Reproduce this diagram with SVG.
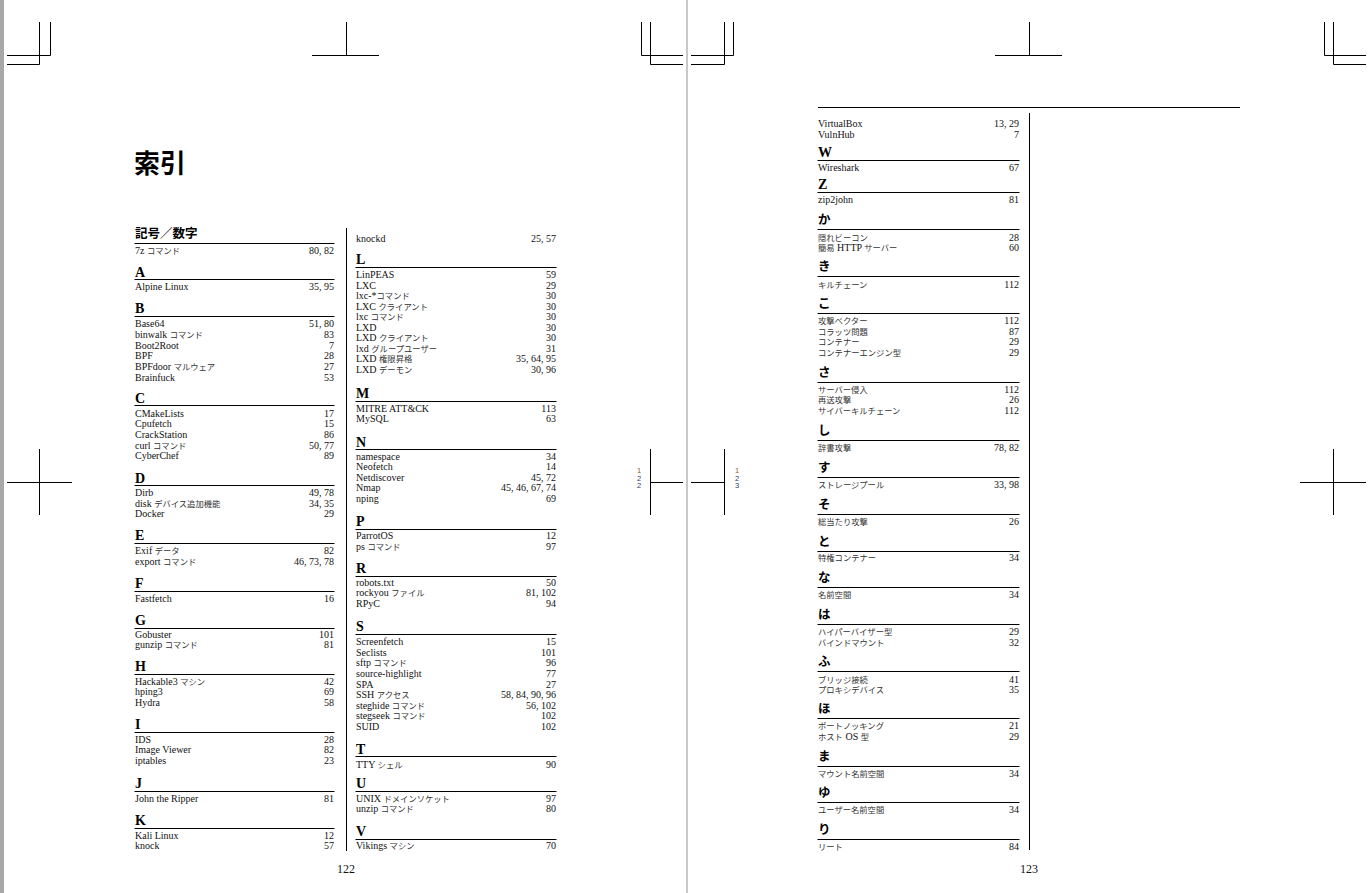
<svg xmlns="http://www.w3.org/2000/svg" width="1369" height="893" viewBox="0 0 1369 893">
<style>
.e{font-family:"Liberation Serif","Noto Sans CJK JP",serif;font-size:10px;fill:#111}
.n{font-family:"Liberation Serif",serif;font-size:10px;fill:#111;text-anchor:end}
.j{font-family:"Noto Sans CJK JP",sans-serif;font-size:8.3px;fill:#333}
.h{font-family:"Liberation Serif",serif;font-size:14px;font-weight:bold;fill:#000}
.hk{font-family:"Noto Sans CJK JP",sans-serif;font-size:12.5px;font-weight:bold;fill:#000}
.r{stroke:#000;stroke-width:1}
.m{stroke:#000;stroke-width:1;fill:none}
.pn{font-family:"Liberation Serif",serif;font-size:12px;fill:#111;text-anchor:middle}
.g{font-family:"Liberation Sans",sans-serif;font-size:7.5px;fill:#2c3c6c;text-anchor:middle}
</style>
<rect x="0" y="0" width="1369" height="893" fill="#fff"/>
<rect x="0" y="0" width="4" height="893" fill="#a8a8a8"/>
<rect x="686" y="0" width="2" height="893" fill="#c8c8c8"/>
<g id="cropmarks">
<path class="m" d="M39.5 22V64.5M7 64.5H39.5M50.5 22V55.5M7 55.5H50.5M641.5 22V55.5H683M650.5 22V64.5H683M346.5 22V55.5M312 55.5H379"/>
<path class="m" d="M39.5 449V515M7 482.5H72M650.5 449V515M650.5 482.5H683"/>
<path class="m" d="M724.5 22V64.5M691 64.5H724.5M733.5 22V55.5M691 55.5H733.5M1324.5 22V55.5H1366M1333.5 22V64.5H1366M1029.5 22V55.5M995 55.5H1062"/>
<path class="m" d="M724.5 449V515M691 482.5H724.5M1333.5 449V515M1300 482.5H1366"/>
</g>
<g id="gutter-numbers">
<text class="g" x="639" y="473" style="fill:#8a6420">1</text><text class="g" x="639" y="480.5">2</text><text class="g" x="639" y="488">2</text>
<text class="g" x="737" y="473" style="fill:#8a6420">1</text><text class="g" x="737" y="480.5">2</text><text class="g" x="737" y="488">3</text>
</g>
<g id="title"><text x="134" y="173" style="font-family:'Noto Sans CJK JP',sans-serif;font-size:26px;font-weight:bold;fill:#000">索引</text></g>
<g id="separators">
<line class="r" x1="346.5" y1="228" x2="346.5" y2="851"/>
<line class="r" x1="1029.5" y1="113" x2="1029.5" y2="850"/>
<line class="r" x1="818" y1="107.5" x2="1240" y2="107.5"/>
</g>
<g id="col-left">
<g id="sec-num"><text class="hk" x="135" y="237.5">記号／数字</text><line class="r" x1="134.5" y1="243.5" x2="334.5" y2="243.5"/>
<text class="e" x="135" y="253.7">7z <tspan class="j">コマンド</tspan></text><text class="n" x="334" y="253.7">80, 82</text></g>
<g id="sec-A"><text class="h" x="135" y="276.5">A</text><line class="r" x1="134.5" y1="279.5" x2="334.5" y2="279.5"/>
<text class="e" x="135" y="290.3">Alpine Linux</text><text class="n" x="334" y="290.3">35, 95</text></g>
<g id="sec-B"><text class="h" x="135" y="313.3">B</text><line class="r" x1="134.5" y1="316.5" x2="334.5" y2="316.5"/>
<text class="e" x="135" y="327.3">Base64</text><text class="n" x="334" y="327.3">51, 80</text>
<text class="e" x="135" y="338">binwalk <tspan class="j">コマンド</tspan></text><text class="n" x="334" y="338">83</text>
<text class="e" x="135" y="348.7">Boot2Root</text><text class="n" x="334" y="348.7">7</text>
<text class="e" x="135" y="359.3">BPF</text><text class="n" x="334" y="359.3">28</text>
<text class="e" x="135" y="370">BPFdoor <tspan class="j">マルウェア</tspan></text><text class="n" x="334" y="370">27</text>
<text class="e" x="135" y="380.7">Brainfuck</text><text class="n" x="334" y="380.7">53</text></g>
<g id="sec-C"><text class="h" x="135" y="402.7">C</text><line class="r" x1="134.5" y1="405.5" x2="334.5" y2="405.5"/>
<text class="e" x="135" y="416.7">CMakeLists</text><text class="n" x="334" y="416.7">17</text>
<text class="e" x="135" y="427.3">Cpufetch</text><text class="n" x="334" y="427.3">15</text>
<text class="e" x="135" y="438">CrackStation</text><text class="n" x="334" y="438">86</text>
<text class="e" x="135" y="448.7">curl <tspan class="j">コマンド</tspan></text><text class="n" x="334" y="448.7">50, 77</text>
<text class="e" x="135" y="459.3">CyberChef</text><text class="n" x="334" y="459.3">89</text></g>
<g id="sec-D"><text class="h" x="135" y="482.5">D</text><line class="r" x1="134.5" y1="485.5" x2="334.5" y2="485.5"/>
<text class="e" x="135" y="495.9">Dirb</text><text class="n" x="334" y="495.9">49, 78</text>
<text class="e" x="135" y="506.5">disk <tspan class="j">デバイス追加機能</tspan></text><text class="n" x="334" y="506.5">34, 35</text>
<text class="e" x="135" y="517.1">Docker</text><text class="n" x="334" y="517.1">29</text></g>
<g id="sec-E"><text class="h" x="135" y="540">E</text><line class="r" x1="134.5" y1="543.5" x2="334.5" y2="543.5"/>
<text class="e" x="135" y="554">Exif <tspan class="j">データ</tspan></text><text class="n" x="334" y="554">82</text>
<text class="e" x="135" y="564.5">export <tspan class="j">コマンド</tspan></text><text class="n" x="334" y="564.5">46, 73, 78</text></g>
<g id="sec-F"><text class="h" x="135" y="588">F</text><line class="r" x1="134.5" y1="591.5" x2="334.5" y2="591.5"/>
<text class="e" x="135" y="602">Fastfetch</text><text class="n" x="334" y="602">16</text></g>
<g id="sec-G"><text class="h" x="135" y="625">G</text><line class="r" x1="134.5" y1="628.5" x2="334.5" y2="628.5"/>
<text class="e" x="135" y="637.8">Gobuster</text><text class="n" x="334" y="637.8">101</text>
<text class="e" x="135" y="648.4">gunzip <tspan class="j">コマンド</tspan></text><text class="n" x="334" y="648.4">81</text></g>
<g id="sec-H"><text class="h" x="135" y="671">H</text><line class="r" x1="134.5" y1="674.5" x2="334.5" y2="674.5"/>
<text class="e" x="135" y="685">Hackable3 <tspan class="j">マシン</tspan></text><text class="n" x="334" y="685">42</text>
<text class="e" x="135" y="695.4">hping3</text><text class="n" x="334" y="695.4">69</text>
<text class="e" x="135" y="705.8">Hydra</text><text class="n" x="334" y="705.8">58</text></g>
<g id="sec-I"><text class="h" x="135" y="729.3">I</text><line class="r" x1="134.5" y1="732.5" x2="334.5" y2="732.5"/>
<text class="e" x="135" y="742.8">IDS</text><text class="n" x="334" y="742.8">28</text>
<text class="e" x="135" y="753.4">Image Viewer</text><text class="n" x="334" y="753.4">82</text>
<text class="e" x="135" y="764">iptables</text><text class="n" x="334" y="764">23</text></g>
<g id="sec-J"><text class="h" x="135" y="788">J</text><line class="r" x1="134.5" y1="791.5" x2="334.5" y2="791.5"/>
<text class="e" x="135" y="802.3">John the Ripper</text><text class="n" x="334" y="802.3">81</text></g>
<g id="sec-K"><text class="h" x="135" y="825">K</text><line class="r" x1="134.5" y1="828.5" x2="334.5" y2="828.5"/>
<text class="e" x="135" y="838.6">Kali Linux</text><text class="n" x="334" y="838.6">12</text>
<text class="e" x="135" y="849.2">knock</text><text class="n" x="334" y="849.2">57</text></g>
</g>
<g id="col-mid">
<g id="sec-K2"><text class="e" x="356" y="241.7">knockd</text><text class="n" x="556" y="241.7">25, 57</text></g>
<g id="sec-L"><text class="h" x="356" y="264.3">L</text><line class="r" x1="355.5" y1="267.5" x2="556.5" y2="267.5"/>
<text class="e" x="356" y="278.3">LinPEAS</text><text class="n" x="556" y="278.3">59</text>
<text class="e" x="356" y="288.8">LXC</text><text class="n" x="556" y="288.8">29</text>
<text class="e" x="356" y="299.2">lxc-*<tspan class="j">コマンド</tspan></text><text class="n" x="556" y="299.2">30</text>
<text class="e" x="356" y="309.6">LXC <tspan class="j">クライアント</tspan></text><text class="n" x="556" y="309.6">30</text>
<text class="e" x="356" y="320">lxc <tspan class="j">コマンド</tspan></text><text class="n" x="556" y="320">30</text>
<text class="e" x="356" y="330.5">LXD</text><text class="n" x="556" y="330.5">30</text>
<text class="e" x="356" y="341">LXD <tspan class="j">クライアント</tspan></text><text class="n" x="556" y="341">30</text>
<text class="e" x="356" y="351.5">lxd <tspan class="j">グループユーザー</tspan></text><text class="n" x="556" y="351.5">31</text>
<text class="e" x="356" y="362.2">LXD <tspan class="j">権限昇格</tspan></text><text class="n" x="556" y="362.2">35, 64, 95</text>
<text class="e" x="356" y="372.7">LXD <tspan class="j">デーモン</tspan></text><text class="n" x="556" y="372.7">30, 96</text></g>
<g id="sec-M"><text class="h" x="356" y="398">M</text><line class="r" x1="355.5" y1="401.5" x2="556.5" y2="401.5"/>
<text class="e" x="356" y="411.7">MITRE ATT&amp;CK</text><text class="n" x="556" y="411.7">113</text>
<text class="e" x="356" y="422.2">MySQL</text><text class="n" x="556" y="422.2">63</text></g>
<g id="sec-N"><text class="h" x="356" y="446.5">N</text><line class="r" x1="355.5" y1="449.5" x2="556.5" y2="449.5"/>
<text class="e" x="356" y="459.5">namespace</text><text class="n" x="556" y="459.5">34</text>
<text class="e" x="356" y="470.2">Neofetch</text><text class="n" x="556" y="470.2">14</text>
<text class="e" x="356" y="480.8">Netdiscover</text><text class="n" x="556" y="480.8">45, 72</text>
<text class="e" x="356" y="491.4">Nmap</text><text class="n" x="556" y="491.4">45, 46, 67, 74</text>
<text class="e" x="356" y="502">nping</text><text class="n" x="556" y="502">69</text></g>
<g id="sec-P"><text class="h" x="356" y="526">P</text><line class="r" x1="355.5" y1="529.5" x2="556.5" y2="529.5"/>
<text class="e" x="356" y="539.3">ParrotOS</text><text class="n" x="556" y="539.3">12</text>
<text class="e" x="356" y="549.8">ps <tspan class="j">コマンド</tspan></text><text class="n" x="556" y="549.8">97</text></g>
<g id="sec-R"><text class="h" x="356" y="573">R</text><line class="r" x1="355.5" y1="576.5" x2="556.5" y2="576.5"/>
<text class="e" x="356" y="586">robots.txt</text><text class="n" x="556" y="586">50</text>
<text class="e" x="356" y="596.4">rockyou <tspan class="j">ファイル</tspan></text><text class="n" x="556" y="596.4">81, 102</text>
<text class="e" x="356" y="606.8">RPyC</text><text class="n" x="556" y="606.8">94</text></g>
<g id="sec-S"><text class="h" x="356" y="631">S</text><line class="r" x1="355.5" y1="634.5" x2="556.5" y2="634.5"/>
<text class="e" x="356" y="645.2">Screenfetch</text><text class="n" x="556" y="645.2">15</text>
<text class="e" x="356" y="655.8">Seclists</text><text class="n" x="556" y="655.8">101</text>
<text class="e" x="356" y="666.3">sftp <tspan class="j">コマンド</tspan></text><text class="n" x="556" y="666.3">96</text>
<text class="e" x="356" y="676.9">source-highlight</text><text class="n" x="556" y="676.9">77</text>
<text class="e" x="356" y="687.5">SPA</text><text class="n" x="556" y="687.5">27</text>
<text class="e" x="356" y="698.1">SSH <tspan class="j">アクセス</tspan></text><text class="n" x="556" y="698.1">58, 84, 90, 96</text>
<text class="e" x="356" y="708.7">steghide <tspan class="j">コマンド</tspan></text><text class="n" x="556" y="708.7">56, 102</text>
<text class="e" x="356" y="719.2">stegseek <tspan class="j">コマンド</tspan></text><text class="n" x="556" y="719.2">102</text>
<text class="e" x="356" y="729.8">SUID</text><text class="n" x="556" y="729.8">102</text></g>
<g id="sec-T"><text class="h" x="356" y="753.7">T</text><line class="r" x1="355.5" y1="756.5" x2="556.5" y2="756.5"/>
<text class="e" x="356" y="767.7">TTY <tspan class="j">シェル</tspan></text><text class="n" x="556" y="767.7">90</text></g>
<g id="sec-U"><text class="h" x="356" y="788">U</text><line class="r" x1="355.5" y1="791.5" x2="556.5" y2="791.5"/>
<text class="e" x="356" y="801.8">UNIX <tspan class="j">ドメインソケット</tspan></text><text class="n" x="556" y="801.8">97</text>
<text class="e" x="356" y="812.2">unzip <tspan class="j">コマンド</tspan></text><text class="n" x="556" y="812.2">80</text></g>
<g id="sec-V"><text class="h" x="356" y="836">V</text><line class="r" x1="355.5" y1="839.5" x2="556.5" y2="839.5"/>
<text class="e" x="356" y="848.6">Vikings <tspan class="j">マシン</tspan></text><text class="n" x="556" y="848.6">70</text></g>
</g>
<g id="col-right">
<g id="sec-V2"><text class="e" x="818" y="127.3">VirtualBox</text><text class="n" x="1019" y="127.3">13, 29</text>
<text class="e" x="818" y="138.1">VulnHub</text><text class="n" x="1019" y="138.1">7</text></g>
<g id="sec-W"><text class="h" x="818" y="157.3">W</text><line class="r" x1="817.5" y1="160.5" x2="1019.5" y2="160.5"/>
<text class="e" x="818" y="170.7">Wireshark</text><text class="n" x="1019" y="170.7">67</text></g>
<g id="sec-Z"><text class="h" x="818" y="189.3">Z</text><line class="r" x1="817.5" y1="192.5" x2="1019.5" y2="192.5"/>
<text class="e" x="818" y="203.3">zip2john</text><text class="n" x="1019" y="203.3">81</text></g>
<g id="sec-ka"><text class="hk" x="818" y="223.8">か</text><line class="r" x1="817.5" y1="229.5" x2="1019.5" y2="229.5"/>
<text class="e" x="818" y="240.5"><tspan class="j">隠れビーコン</tspan></text><text class="n" x="1019" y="240.5">28</text>
<text class="e" x="818" y="251"><tspan class="j">簡易</tspan> HTTP <tspan class="j">サーバー</tspan></text><text class="n" x="1019" y="251">60</text></g>
<g id="sec-ki"><text class="hk" x="818" y="270.8">き</text><line class="r" x1="817.5" y1="276.5" x2="1019.5" y2="276.5"/>
<text class="e" x="818" y="287.5"><tspan class="j">キルチェーン</tspan></text><text class="n" x="1019" y="287.5">112</text></g>
<g id="sec-ko"><text class="hk" x="818" y="307.8">こ</text><line class="r" x1="817.5" y1="313.5" x2="1019.5" y2="313.5"/>
<text class="e" x="818" y="324"><tspan class="j">攻撃ベクター</tspan></text><text class="n" x="1019" y="324">112</text>
<text class="e" x="818" y="334.5"><tspan class="j">コラッツ問題</tspan></text><text class="n" x="1019" y="334.5">87</text>
<text class="e" x="818" y="345"><tspan class="j">コンテナー</tspan></text><text class="n" x="1019" y="345">29</text>
<text class="e" x="818" y="355.6"><tspan class="j">コンテナーエンジン型</tspan></text><text class="n" x="1019" y="355.6">29</text></g>
<g id="sec-sa"><text class="hk" x="818" y="376.8">さ</text><line class="r" x1="817.5" y1="382.5" x2="1019.5" y2="382.5"/>
<text class="e" x="818" y="392.7"><tspan class="j">サーバー侵入</tspan></text><text class="n" x="1019" y="392.7">112</text>
<text class="e" x="818" y="403.3"><tspan class="j">再送攻撃</tspan></text><text class="n" x="1019" y="403.3">26</text>
<text class="e" x="818" y="414"><tspan class="j">サイバーキルチェーン</tspan></text><text class="n" x="1019" y="414">112</text></g>
<g id="sec-shi"><text class="hk" x="818" y="434.5">し</text><line class="r" x1="817.5" y1="440.5" x2="1019.5" y2="440.5"/>
<text class="e" x="818" y="450.7"><tspan class="j">辞書攻撃</tspan></text><text class="n" x="1019" y="450.7">78, 82</text></g>
<g id="sec-su"><text class="hk" x="818" y="471.8">す</text><line class="r" x1="817.5" y1="477.5" x2="1019.5" y2="477.5"/>
<text class="e" x="818" y="488.3"><tspan class="j">ストレージプール</tspan></text><text class="n" x="1019" y="488.3">33, 98</text></g>
<g id="sec-so"><text class="hk" x="818" y="508.8">そ</text><line class="r" x1="817.5" y1="514.5" x2="1019.5" y2="514.5"/>
<text class="e" x="818" y="525"><tspan class="j">総当たり攻撃</tspan></text><text class="n" x="1019" y="525">26</text></g>
<g id="sec-to"><text class="hk" x="818" y="545.5">と</text><line class="r" x1="817.5" y1="551.5" x2="1019.5" y2="551.5"/>
<text class="e" x="818" y="561.3"><tspan class="j">特権コンテナー</tspan></text><text class="n" x="1019" y="561.3">34</text></g>
<g id="sec-na"><text class="hk" x="818" y="581.8">な</text><line class="r" x1="817.5" y1="587.5" x2="1019.5" y2="587.5"/>
<text class="e" x="818" y="597.7"><tspan class="j">名前空間</tspan></text><text class="n" x="1019" y="597.7">34</text></g>
<g id="sec-ha"><text class="hk" x="818" y="618.8">は</text><line class="r" x1="817.5" y1="624.5" x2="1019.5" y2="624.5"/>
<text class="e" x="818" y="635"><tspan class="j">ハイパーバイザー型</tspan></text><text class="n" x="1019" y="635">29</text>
<text class="e" x="818" y="645.6"><tspan class="j">バインドマウント</tspan></text><text class="n" x="1019" y="645.6">32</text></g>
<g id="sec-fu"><text class="hk" x="818" y="666.2">ふ</text><line class="r" x1="817.5" y1="671.5" x2="1019.5" y2="671.5"/>
<text class="e" x="818" y="682.5"><tspan class="j">ブリッジ接続</tspan></text><text class="n" x="1019" y="682.5">41</text>
<text class="e" x="818" y="693"><tspan class="j">プロキシデバイス</tspan></text><text class="n" x="1019" y="693">35</text></g>
<g id="sec-ho"><text class="hk" x="818" y="712.8">ほ</text><line class="r" x1="817.5" y1="718.5" x2="1019.5" y2="718.5"/>
<text class="e" x="818" y="729.3"><tspan class="j">ポートノッキング</tspan></text><text class="n" x="1019" y="729.3">21</text>
<text class="e" x="818" y="739.8"><tspan class="j">ホスト</tspan> OS <tspan class="j">型</tspan></text><text class="n" x="1019" y="739.8">29</text></g>
<g id="sec-ma"><text class="hk" x="818" y="760.5">ま</text><line class="r" x1="817.5" y1="766.5" x2="1019.5" y2="766.5"/>
<text class="e" x="818" y="776.7"><tspan class="j">マウント名前空間</tspan></text><text class="n" x="1019" y="776.7">34</text></g>
<g id="sec-yu"><text class="hk" x="818" y="796.8">ゆ</text><line class="r" x1="817.5" y1="802.5" x2="1019.5" y2="802.5"/>
<text class="e" x="818" y="812.7"><tspan class="j">ユーザー名前空間</tspan></text><text class="n" x="1019" y="812.7">34</text></g>
<g id="sec-ri"><text class="hk" x="818" y="833.5">り</text><line class="r" x1="817.5" y1="839.5" x2="1019.5" y2="839.5"/>
<text class="e" x="818" y="849.7"><tspan class="j">リート</tspan></text><text class="n" x="1019" y="849.7">84</text></g>
</g>
<g id="page-numbers">
<text class="pn" x="346" y="873">122</text>
<text class="pn" x="1029" y="873">123</text>
</g>
</svg>
